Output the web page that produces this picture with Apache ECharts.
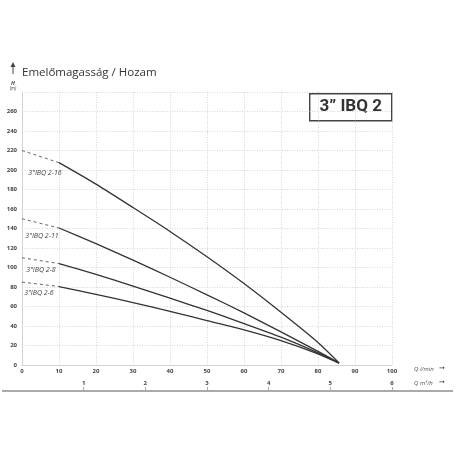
<!DOCTYPE html>
<html>
<head>
<meta charset="utf-8">
<script src="https://cdn.jsdelivr.net/npm/echarts@6/dist/echarts.min.js"></script>
<style>
  html, body { margin: 0; padding: 0; background: #fff; }
  #main { width: 456px; height: 456px; }
</style>
</head>
<body>
<div id="main"></div>
<script>
// flow in l/min (x) and head in m (y)
var pumps = ['3"IBQ 2-16', '3"IBQ 2-11', '3"IBQ 2-8', '3"IBQ 2-6'];
var flow = [0, 10, 20, 30, 40, 50, 60, 70, 80, 85.7];
var head216 = [220, 207.5, 185.5, 161.5, 137, 111, 83.5, 54, 23, 2];
var head211 = [150, 140.5, 124.5, 107.5, 90, 72, 53.5, 34, 14, 2];
var head28 = [110, 104, 93, 81, 68.5, 56, 42.5, 28.5, 12.5, 2];
var head26 = [85, 80.5, 72.5, 64, 55, 45.5, 36, 25, 11.5, 2];
var heads = [head216, head211, head28, head26];
var labelOffsets = [[-14, 10], [-17, 8], [-18, 6], [-20, 6]];

var yTicks = { min: 0, max: 280, interval: 20 };
var qlTicks = { min: 0, max: 100, interval: 10 };
var qmTicks = { min: 0, max: 6, interval: 1 };

var chart = echarts.init(document.getElementById('main'));

var series = [];
heads.forEach(function (h, i) {
  var dashed = [[flow[0], h[0]], {
    value: [flow[1], h[1]],
    symbol: 'circle', symbolSize: 0.1,
    label: {
      show: true, formatter: pumps[i], position: 'inside', offset: labelOffsets[i],
      fontSize: 7, fontStyle: 'italic', color: '#444', fontFamily: 'Open Sans'
    }
  }];
  var solid = [];
  for (var k = 1; k < flow.length; k++) solid.push([flow[k], h[k]]);
  series.push({
    type: 'line', data: dashed, symbol: 'none', showSymbol: true, silent: true,
    lineStyle: { color: '#555', width: 0.9, type: [3, 3] }, z: 3
  });
  series.push({
    type: 'line', data: solid, symbol: 'none', smooth: 0.2, silent: true,
    lineStyle: { color: '#333', width: 1.3 }, z: 4
  });
});

var axisLabelStyle = { color: '#444', fontSize: 6, fontWeight: 'bold', fontFamily: 'Open Sans' };
var grayDots = { color: '#ccc', width: 0.8, type: [1, 1.5] };

var option = {
  animation: false,
  grid: { left: 22, right: 64, top: 92, bottom: 91 },
  xAxis: [{
    type: 'value', min: qlTicks.min, max: qlTicks.max, interval: qlTicks.interval,
    axisLine: { show: true, lineStyle: { color: '#ccc', width: 0.8 } },
    axisTick: { show: false },
    splitLine: { show: true, lineStyle: grayDots },
    axisLabel: Object.assign({ margin: 3 }, axisLabelStyle)
  }, {
    type: 'value', position: 'bottom', offset: 26,
    min: qmTicks.min, max: qmTicks.max, interval: qmTicks.interval,
    axisLine: { show: false },
    axisTick: { show: true, inside: true, length: 4, lineStyle: { color: '#aaa', width: 1 } },
    splitLine: { show: false },
    axisLabel: Object.assign({ inside: true, margin: 5, showMinLabel: false }, axisLabelStyle)
  }],
  yAxis: {
    type: 'value', min: yTicks.min, max: yTicks.max, interval: yTicks.interval,
    axisLine: { show: true, lineStyle: { color: '#ccc', width: 0.8 } },
    axisTick: { show: false },
    splitLine: { show: true, lineStyle: grayDots },
    axisLabel: Object.assign({ margin: 5, showMaxLabel: false, align: 'right' }, axisLabelStyle)
  },
  series: series,
  graphic: [
    { type: 'line', shape: { x1: 2, y1: 391, x2: 453, y2: 391 },
      style: { stroke: '#aaa', lineWidth: 2 }, z: 1 },
    { type: 'text', left: 22, top: 67,
      style: { text: 'Emelőmagasság / Hozam', fontSize: 11.5, fill: '#333', fontFamily: 'Open Sans' } },
    { type: 'line', shape: { x1: 13, y1: 74, x2: 13, y2: 66 },
      style: { stroke: '#444', lineWidth: 1 } },
    { type: 'polygon', shape: { points: [[10.5, 67], [15.5, 67], [13, 62]] },
      style: { fill: '#444' } },
    { type: 'text', x: 13, y: 80,
      style: { text: 'H', fontSize: 5.5, fontWeight: 'bold', fontStyle: 'italic', fill: '#444', align: 'center', fontFamily: 'Open Sans' } },
    { type: 'text', x: 13, y: 86,
      style: { text: '(m)', fontSize: 4.5, fontStyle: 'italic', fill: '#444', align: 'center', fontFamily: 'Open Sans' } },
    { type: 'group', left: 309, top: 93, z: 10, children: [
      { type: 'rect', shape: { x: 0, y: 0, width: 82, height: 27 },
        style: { fill: '#fff', stroke: '#444', lineWidth: 1.4 } },
      { type: 'text', x: 41, y: 13.5,
        style: { text: '3” IBQ 2', fontSize: 17, fontWeight: 'bold', fill: '#333',
                 align: 'center', verticalAlign: 'middle', fontFamily: 'Roboto' } }
    ] },
    { type: 'text', x: 414, y: 366,
      style: { text: 'Q l/min', fontSize: 6, fontStyle: 'italic', fill: '#555', fontFamily: 'Open Sans' } },
    { type: 'text', x: 414, y: 380,
      style: { text: 'Q m³/h', fontSize: 6, fontStyle: 'italic', fill: '#555', fontFamily: 'Open Sans' } },
    { type: 'text', x: 439, y: 364.5,
      style: { text: '➞', fontSize: 7, fill: '#444' } },
    { type: 'text', x: 439, y: 378.5,
      style: { text: '➞', fontSize: 7, fill: '#444' } }
  ]
};
chart.setOption(option);
</script>
</body>
</html>
